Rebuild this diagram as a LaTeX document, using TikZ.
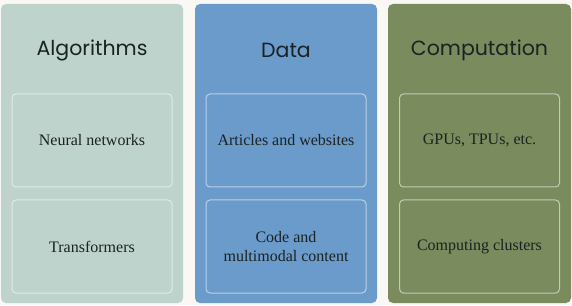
\documentclass[tikz,border=0pt]{standalone}
\usepackage{fontspec}
\setmainfont{Liberation Serif}
\newfontfamily\pillarfont{Poppins}
\usepackage{tikz}
\usetikzlibrary{positioning}

\definecolor{pagebg}{HTML}{F9F8F4}
\definecolor{algocol}{HTML}{BDD3CC}
\definecolor{datacol}{HTML}{6A9BCB}
\definecolor{compcol}{HTML}{7A8B5E}
\definecolor{inktext}{HTML}{1A2222}

\begin{document}
\begin{tikzpicture}[x=1pt, y=1pt,
    panel/.style={rounded corners=5pt, minimum width=182pt, minimum height=299pt, inner sep=0pt},
    pillar/.style={font=\pillarfont\fontsize{20.5}{25}\selectfont, text=inktext},
    item/.style={draw=white, draw opacity=0.55, line width=1pt, rounded corners=4pt,
        minimum width=160pt, minimum height=93pt, align=center, inner sep=0pt,
        font=\fontsize{16}{18.5}\selectfont, text=inktext}
]
% Background
\fill[pagebg] (0,0) rectangle (572,305);
\useasboundingbox (0,0) rectangle (572,305);

% Three panels
\node[panel, fill=algocol] (algo) at (92,151.5) {};
\node[panel, fill=datacol] (data) at (286,151.5) {};
\node[panel, fill=compcol, minimum width=183pt] (comp) at (479.5,151.5) {};

% Titles
\node[pillar] (algotitle) at (92,255) {Algorithms};
\node[pillar] (datatitle) at (286,255) {Data};
\node[pillar] (comptitle) at (479.5,255) {Computation};

% Items
\node[item] (nn) at (92,164.5) {Neural networks};
\node[item, below=12pt of nn] (tf) {Transformers};

\node[item] (web) at (286,164.5) {Articles and websites};
\node[item, below=12pt of web] (code) {Code and\\multimodal content};

\node[item] (gpu) at (479.5,164.5) {GPUs, TPUs, etc.};
\node[item, below=12pt of gpu] (cluster) {Computing clusters};
\end{tikzpicture}
\end{document}
